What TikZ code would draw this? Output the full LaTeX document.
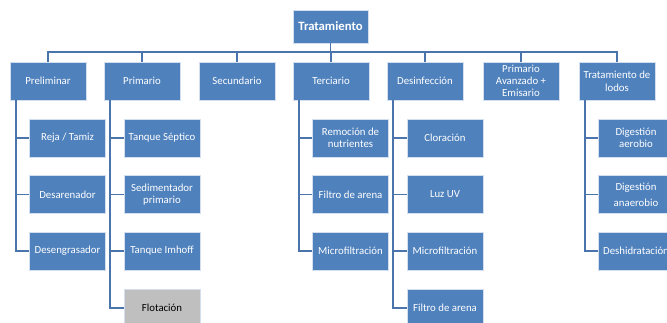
\documentclass[tikz,border=0pt]{standalone}
\usepackage{fontspec}
\setmainfont{Carlito}
\definecolor{boxblue}{HTML}{4F81BD}
\definecolor{lineblue}{HTML}{4A74AC}
\definecolor{flotgray}{HTML}{BFBFBF}

\tikzstyle{stage}=[rectangle,fill=boxblue,draw=white!75!boxblue,line width=0.6pt,text=white,minimum width=76pt,minimum height=38pt,inner sep=1pt,align=center,font=\fontsize{10.8}{11.8}\selectfont]
\tikzstyle{root}=[stage,minimum width=75pt,minimum height=33pt,font=\fontsize{12.7}{14}\selectfont\bfseries]
\tikzstyle{grey stage}=[stage,fill=flotgray,text=black]
\tikzstyle{edge} = [draw,line width=1.8pt,lineblue]

\begin{document}
\begin{tikzpicture}[x=1pt,y=-1pt]
	\useasboundingbox (0,0) rectangle (667,322);
	\clip (0,0) rectangle (667,322);
			\node[root] (trat) at (330.5,26.5) {Tratamiento};
			% First the main stages
			\node[stage] (pre) at (48,81) {Preliminar};
			\node[stage] (pri) at (142,81) {Primario};
			\node[stage] (sec) at (237,81) {Secundario};
			\node[stage] (ter) at (331,81) {Terciario};
			\node[stage] (des) at (425,81) {Desinfección};
			\node[stage] (ava) at (521,81) {Primario\\Avanzado +\\Emisario};
			\node[stage] (lod) at (617,81) {Tratamiento de\\[1pt]lodos};
			% Then the steps below them
			\node[stage] (reja) at (67.5,138) {Reja / Tamiz};
			\node[stage] (dare) at (67.5,194.5) {Desarenador};
			\node[stage] (dgra) at (67.5,251) {Desengrasador};
			\node[stage] (sept) at (162,138) {Tanque Séptico};
			\node[stage] (sedi) at (162,194.5) {Sedimentador\\primario};
			\node[stage] (imho) at (162,251) {Tanque Imhoff};
			\node[grey stage] (flot) at (162,308) {Flotación};
			\node[stage] (remo) at (350.5,138) {Remoción de\\nutrientes};
			\node[stage] (fil1) at (350.5,194.5) {Filtro de arena};
			\node[stage] (mic1) at (350.5,251) {Microfiltración};
			\node[stage] (clor) at (445,138) {Cloración};
			\node[stage] (luz) at (445,194.5) {Luz UV};
			\node[stage] (mic2) at (445,251) {Microfiltración};
			\node[stage] (fil2) at (445,308) {Filtro de arena};
			\node[stage] (aero) at (636,138) {Digestión\\aerobio};
			\node[stage] (anae) at (636,194.5) {Digestión\\[4pt]anaerobio};
			\node[stage] (desh) at (636,251) {Deshidratación};
	    		% Connect root with the stages
	   		 \foreach \dest in {pre,pri,sec,ter,des,ava,lod}
			 \path[edge] (trat.south) -- ++(0,-9pt) -| (\dest.north);
	   		 % Connect stages with their steps
	   		 \foreach \source/ \dest in {pre/reja, pre/dare, pre/dgra, pri/sept, pri/sedi, pri/imho, pri/flot, ter/remo, ter/fil1, ter/mic1, des/clor, des/luz, des/mic2, des/fil2, lod/aero, lod/anae, lod/desh}
			 \path[edge] ([xshift=6.5pt]\source.south west) |- (\dest.west);
		\end{tikzpicture}
\end{document}
